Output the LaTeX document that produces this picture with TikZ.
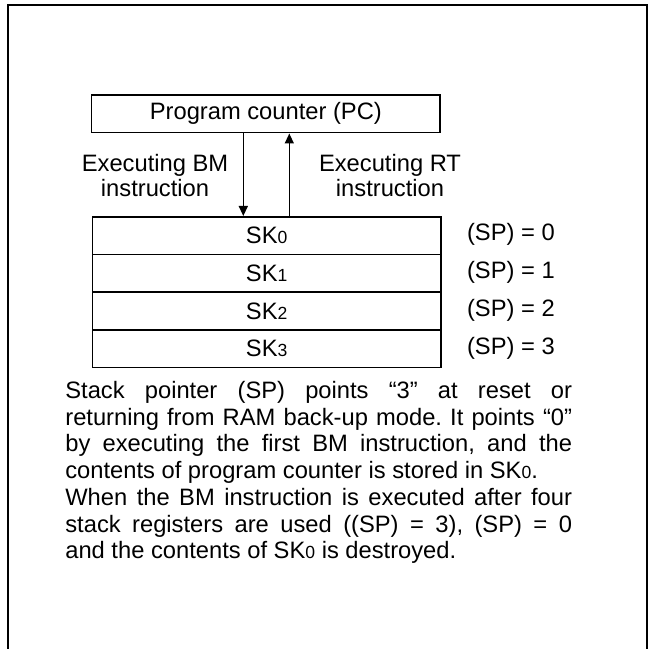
\documentclass[tikz,border=0pt]{standalone}
\usepackage{fontspec}
\setmainfont{Liberation Sans}
\usetikzlibrary{arrows.meta, positioning, calc}
\tikzset{
  regbox/.style={draw, line width=0.9pt, minimum height=0.754cm, inner sep=0pt},
  flowarrow/.style={line width=0.75pt, -{Triangle[length=0.2cm,width=0.18cm]}},
}
\newcommand{\skidx}[1]{{\fontsize{10}{10}\selectfont #1}}

\begin{document}
\begin{tikzpicture}[font=\fontsize{13.5}{14.2}\selectfont]
  \useasboundingbox (0,0) rectangle (13,12.96);
  \draw[line width=1.15pt] (0.166,-0.3) -- (0.166,12.854) -- (12.946,12.854) -- (12.946,-0.3);
  \node[regbox, minimum width=6.966cm] (pc) at (5.317,10.683) {Program counter (PC)};
  \foreach \i in {0,...,3}{
    \node[regbox, minimum width=6.966cm, anchor=north west] (sk\i) at (1.834,{8.64-0.754*\i}) {SK\skidx{\i}};
    \node[anchor=west, inner sep=0pt] (sp\i) at (9.334,{8.263-0.754*\i}) {(SP) = \i};
  }
  \coordinate (bmtop) at (4.866,10.306);
  \coordinate (rtbot) at (5.786,8.64);
  \draw[flowarrow] (bmtop) -- (bmtop |- sk0.north);
  \draw[flowarrow] (rtbot) -- (rtbot |- pc.south);
  \node[align=center] (bmlbl) at (3.1,9.45) {Executing BM\\instruction};
  \node[align=center] (rtlbl) at (7.8,9.45) {Executing RT\\instruction};
  \node[anchor=base west, text width=10.134cm, align=justify, inner sep=0pt,
        font=\fontsize{13.5}{15.2}\selectfont\frenchspacing] (note) at (1.3,4.99) {%
    Stack pointer (SP) points “3” at reset or\linebreak
    returning from RAM back-up mode. It points “0”\linebreak
    by executing the first BM instruction, and the\linebreak
    contents of program counter is stored in SK\skidx{0}.\\
    When the BM instruction is executed after four\linebreak
    stack registers are used ((SP) = 3), (SP) = 0\linebreak
    and the contents of SK\skidx{0} is destroyed.};
\end{tikzpicture}
\end{document}
